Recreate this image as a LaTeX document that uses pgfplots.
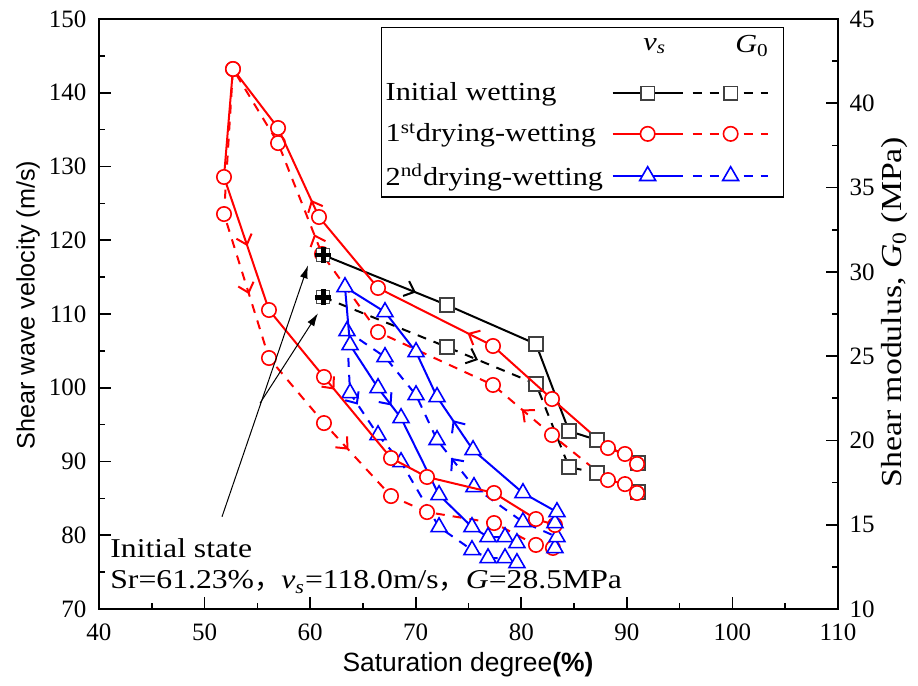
\documentclass[border=0pt]{standalone}
\usepackage{fontspec}
\setmainfont{Liberation Serif}
\setsansfont{Liberation Sans}
\newfontfamily\wide{Liberation Serif}[FakeStretch=1.165]
\newfontfamily\cjk{Noto Sans CJK SC}
\usepackage{pgfplots}
\usepackage{pgfplotstable}
\pgfplotsset{compat=1.18}
\usetikzlibrary{arrows.meta,decorations.markings}
\newcommand\ar{\arrow[solid]{Straight Barb[length=4.5bp,width=8bp]}}
\newcommand\wfont{\wide\fontsize{13bp}{15.6bp}\selectfont}
\pgfplotsset{
  common/.style={
    scale only axis, width=369.5bp, height=295bp,
    xmin=40, xmax=110,
    tick align=inside,
    major tick length=6bp, minor tick length=3bp,
    every tick/.style={black, line width=0.8bp},
    axis line style={line width=1bp},
    /pgf/number format/assume math mode=true,
    ticklabel style={font=\fontsize{12.5bp}{15bp}\selectfont},
    clip=false,
  },
  sq/.style={black, line width=1bp, mark=square*, mark size=3.4bp, mark options={solid, fill=white, draw=black!75, line width=0.8bp}},
  ci/.style={red, line width=1bp, mark=*, mark size=3.6bp, mark options={solid, fill=white, draw=red, line width=0.8bp}},
  tr/.style={blue, line width=1bp, mark=triangle*, mark size=4.6bp, mark options={solid, fill=white, draw=blue, line width=0.8bp}},
  dsh/.style={dash pattern=on 4.5bp off 4bp},
  legsolid/.style={legend image code/.code={\draw[mark repeat=2, mark phase=2, ##1] plot coordinates {(0bp,0bp) (17.5bp,0bp) (35bp,0bp)};}},
  legdash/.style={legend image code/.code={\draw[mark repeat=2, mark phase=2, ##1] plot coordinates {(0bp,0bp) (19bp,0bp) (37.5bp,0bp)}; \path[draw=none] (0bp,0bp) -- (45.5bp,0bp);}},
  legdashlast/.style={legend image code/.code={\draw[mark repeat=2, mark phase=2, ##1] plot coordinates {(0bp,0bp) (19bp,0bp) (37.5bp,0bp)}; \path[draw=none] (0bp,-10.5bp) -- (45.5bp,0bp);}},
}
% initial wetting
\pgfplotstableread{
x v G
61.23 118.00 28.50
72.96 111.22 25.54
81.39 105.93 23.35
84.52 94.13 18.42
87.17 92.92 18.07
91.06 89.80 16.94
}\iw
% 1st drying-wetting, v_s
\pgfplotstableread{
x v
90.96 89.66
89.82 91.02
88.21 91.83
82.91 98.47
77.32 105.66
66.43 113.53
60.84 123.15
56.96 135.22
52.69 143.22
51.84 128.58
56.10 110.54
61.31 101.46
67.66 90.47
71.07 87.90
77.42 85.73
81.39 82.20
83.19 81.39
}\dwav
% 1st drying-wetting, G_0
\pgfplotstableread{
x G
90.96 16.88
89.82 17.41
88.21 17.65
82.91 20.32
77.32 23.29
66.43 26.43
61.12 31.06
56.96 37.64
52.69 42.03
51.84 33.43
56.10 24.89
61.31 21.03
67.66 16.70
71.07 15.75
77.42 15.10
81.39 13.80
83.00 13.62
}\dwag
% 2nd drying-wetting, v_s
\pgfplotstableread{
x v
83.19 81.66
83.38 83.15
80.16 85.73
75.43 91.56
72.02 98.75
70.03 104.85
67.09 110.27
63.30 113.66
63.78 105.80
66.43 99.97
68.61 95.90
72.21 85.46
75.33 81.12
76.85 79.76
78.46 79.76
79.59 78.95
}\dwbv
% 2nd drying-wetting, G_0
\pgfplotstableread{
x G
83.19 13.62
83.38 14.27
80.16 15.16
75.52 17.24
72.02 20.03
70.03 22.69
67.09 24.95
63.49 26.49
63.78 22.81
66.43 20.32
68.61 18.72
72.21 14.86
75.33 13.50
76.85 13.02
78.46 13.02
79.59 12.73
}\dwbg
\begin{document}
\begin{tikzpicture}[font=\fontsize{12.5bp}{15bp}\selectfont]
\path[use as bounding box] (-49.5bp,-38.5bp) rectangle (409.5bp,304.5bp);
% ---------------- right axis: shear modulus (drawn first, underneath) ----------------
\begin{axis}[common,
  ymin=10, ymax=45,
  ytick={10,15,...,45}, minor y tick num=1,
  axis x line=none, axis y line*=right,
  yticklabel style={xshift=2.3bp},
  ylabel={Shear modulus, \textit{G}\textsubscript{0} (MPa)},
  ylabel style={at={(axis description cs:1.077,0.503)}, anchor=center, font=\wide\fontsize{14.5bp}{17bp}\selectfont},
]
\addplot[black, line width=1bp, dsh, no marks,
  postaction={decorate}, decoration={markings, mark=at position 0.425 with {\ar}}]
  table[x=x, y=G] {\iw};
\addplot[red, line width=1bp, dsh, no marks,
  postaction={decorate}, decoration={markings,
    mark=at position 0.114 with {\ar}, mark=at position 0.337 with {\ar},
    mark=at position 0.665 with {\ar}, mark=at position 0.814 with {\ar}}]
  table[x=x, y=G] {\dwag};
\addplot[blue, line width=1bp, dsh, no marks,
  postaction={decorate}, decoration={markings,
    mark=at position 0.233 with {\ar}, mark=at position 0.623 with {\ar}}]
  table[x=x, y=G] {\dwbg};
\addplot[sq, only marks, mark indices={2,3,4,5,6}] table[x=x, y=G] {\iw};
\addplot[ci, only marks] table[x=x, y=G] {\dwag};
\addplot[tr, only marks] table[x=x, y=G] {\dwbg};
\addplot[only marks, mark=square*, mark size=3.2bp, mark options={fill=white, draw=black!70, line width=0.6bp}] coordinates {(61.23,28.5)};
\addplot[only marks, mark=+, mark size=4bp, mark options={line width=2.4bp, black}] coordinates {(61.23,28.5)};
\end{axis}
% ---------------- left axis: shear wave velocity ----------------
\begin{axis}[common,
  ymin=70, ymax=150,
  xtick={40,50,...,110}, ytick={70,80,...,150},
  minor x tick num=1, minor y tick num=1,
  xtick pos=bottom, ytick pos=left,
  xticklabel style={yshift=-3.8bp},
  yticklabel style={xshift=-2.8bp},
  xlabel={\sffamily Saturation degree\textbf{(\%)}},
  xlabel style={at={(axis description cs:0.4993,-0.0949)}, anchor=center, font=\fontsize{13.2bp}{15.5bp}\selectfont},
  ylabel={\sffamily Shear wave velocity (m/s)},
  ylabel style={at={(axis description cs:-0.096,0.515)}, anchor=center, font=\fontsize{12.6bp}{15bp}\selectfont},
  legend columns=2, legend plot pos=right,
  legend cell align=left,
  legend style={at={(rel axis cs:0.3816,0.9864)}, anchor=north west, draw=black, line width=0.7bp,
    inner xsep=0bp, inner ysep=0bp, row sep=5.5bp, column sep=0bp,
    font=\wfont},
]
\addplot[black, line width=1bp, no marks, forget plot,
  postaction={decorate}, decoration={markings, mark=at position 0.25 with {\ar}}]
  table[x=x, y=v] {\iw};
\addplot[red, line width=1bp, no marks, forget plot,
  postaction={decorate}, decoration={markings,
    mark=at position 0.18 with {\ar}, mark=at position 0.356 with {\ar},
    mark=at position 0.635 with {\ar}, mark=at position 0.777 with {\ar}}]
  table[x=x, y=v] {\dwav};
\addplot[blue, line width=1bp, no marks, forget plot,
  postaction={decorate}, decoration={markings,
    mark=at position 0.232 with {\ar}, mark=at position 0.70 with {\ar}}]
  table[x=x, y=v] {\dwbv};
\addplot[sq, only marks, forget plot, mark indices={2,3,4,5,6}] table[x=x, y=v] {\iw};
\addplot[ci, only marks, forget plot] table[x=x, y=v] {\dwav};
\addplot[tr, only marks, forget plot] table[x=x, y=v] {\dwbv};
% initial state
\addplot[only marks, forget plot, mark=square*, mark size=3.2bp, mark options={fill=white, draw=black!70, line width=0.6bp}] coordinates {(61.23,118.0)};
\addplot[only marks, forget plot, mark=+, mark size=4bp, mark options={line width=2.4bp, black}] coordinates {(61.23,118.0)};
% annotation
\draw[-{Latex[length=6.5bp,width=4bp]}, line width=0.5bp] (axis cs:51.65,82.5) -- (axis cs:59.8,116.6);
\draw[-{Latex[length=6.5bp,width=4bp]}, line width=0.5bp] (axis cs:55.25,97.9) -- (axis cs:60.74,110.1);
\node[anchor=west, inner sep=0pt, font=\wide\fontsize{13.6bp}{16bp}\selectfont] at (axis cs:41.04,78.27) {Initial state};
\node[anchor=west, inner sep=0pt, font=\wide\fontsize{13.6bp}{16bp}\selectfont] at (axis cs:41.04,73.66) {Sr=61.23\%{\cjk ，}\textit{v}\textsubscript{\textit{s}}=118.0m/s{\cjk ，}\textit{G}=28.5MPa};
% legend
\addlegendimage{legend image code/.code={\node[inner sep=0pt] at (15bp,0bp) {\textit{v}\textsubscript{\textit{s}}}; \path[draw=none] (0bp,-11.1bp) -- (0bp,9bp);}}
\addlegendentry{}
\addlegendimage{legend image code/.code={\node[inner sep=0pt] at (21bp,0bp) {\textit{G}\textsubscript{0}}; \path[draw=none] (0bp,-11.1bp) -- (0bp,9bp);}}
\addlegendentry{}
\addlegendimage{sq, legsolid}
\addlegendentry{\makebox[111bp][l]{Initial wetting}}
\addlegendimage{sq, dsh, legdash}
\addlegendentry{}
\addlegendimage{ci, legsolid}
\addlegendentry{\makebox[111bp][l]{1\textsuperscript{st}drying-wetting}}
\addlegendimage{ci, dsh, legdash}
\addlegendentry{}
\addlegendimage{tr, legsolid}
\addlegendentry{\makebox[111bp][l]{2\textsuperscript{nd}drying-wetting}}
\addlegendimage{tr, dsh, legdashlast}
\addlegendentry{}
\end{axis}
\end{tikzpicture}
\end{document}
